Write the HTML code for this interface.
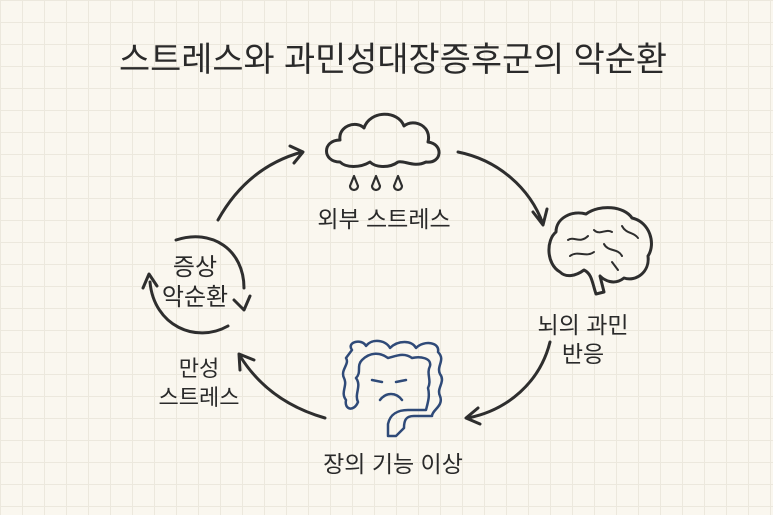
<!DOCTYPE html>
<html><head><meta charset="utf-8"><style>
html,body{margin:0;padding:0}
body{width:773px;height:515px;overflow:hidden;background-color:#faf7ef;
background-image:linear-gradient(#ece8dd 1px,transparent 1px),linear-gradient(90deg,#ece8dd 1px,transparent 1px);background-size:22px 22px;}
svg{position:absolute;left:0;top:0}
text{font-family:"Liberation Sans","Noto Sans CJK KR","NanumGothic",sans-serif;fill:#2a2a2a;text-anchor:middle}
</style></head><body>
<svg width="773" height="515" viewBox="0 0 773 515">
<g fill="none" stroke="#2e2e2e" stroke-width="3" stroke-linecap="round" stroke-linejoin="round">
<text x="393" y="71" font-size="34" stroke="none" textLength="548" lengthAdjust="spacingAndGlyphs">스트레스와  과민성대장증후군의  악순환</text>
<!-- cloud -->
<path d="M340 162 C322 162 322 140 340 140 C338 126 356 120 364 128 C370 110 398 110 404 126 C414 118 432 126 428 142 C444 144 442 164 426 162 C414 168 404 160 398 162 C390 168 376 168 370 162 C360 168 346 168 340 162 Z"/>
<path d="M354 176 L350 186 A4 4 0 0 0 358 186 Z M376 176 L372 186 A4 4 0 0 0 380 186 Z M398 176 L394 186 A4 4 0 0 0 402 186 Z" stroke-width="2.2"/>
<!-- brain -->
<path d="M560 272 C546 264 546 240 556 232 C556 218 572 210 586 214 C600 204 624 206 632 218 C650 222 656 244 648 256 C650 272 636 282 624 278 C614 286 604 280 600 276 L604 292 L596 294 C592 282 592 274 584 270 C576 276 566 278 560 272 Z"/>
<path d="M568 240 C574 236 580 244 588 236 M594 230 C600 236 606 228 612 232 M604 244 C608 252 618 248 622 256 M570 256 C578 250 586 258 594 252 M612 262 L618 270 M622 226 C626 234 634 232 638 238" stroke-width="2"/>
<!-- colon -->
<g stroke="#2f4a78" stroke-width="2.5">
<path d="M352 350 C346 342 362 338 366 346 C372 338 386 340 390 348 C398 340 412 340 416 348 C424 340 440 342 438 352 C446 360 436 366 440 374 C446 382 436 388 440 396 C444 406 432 410 432 416 L414 416 C406 416 404 420 404 428 L396 436 L388 436 L388 424 C390 414 398 410 408 410 L426 410 C428 402 430 396 428 388 C432 380 426 374 430 366 C432 358 420 356 412 358 C404 352 396 356 388 358 C380 352 370 352 362 360 C356 366 362 372 356 378 C362 386 354 394 358 402 C354 412 344 410 346 400 C340 392 348 386 344 378 C340 370 350 364 346 358 Z"/>
<path d="M372 380 L382 382 M396 382 L406 380 M380 400 C386 392 396 392 402 400"/>
</g>
<!-- main arrows -->
<path d="M218 220 C238 184 266 162 302 152 M290 146 L303 152 L294 163"/>
<path d="M458 152 C498 160 530 188 543 224 M533 212 L543 225 L547 209"/>
<path d="M550 342 C540 382 508 410 468 418 M478 408 L466 418 L480 424"/>
<path d="M325 418 C290 408 260 388 240 356 M240 370 L239 354 L254 360"/>
<!-- small cycle -->
<path d="M176 240 C212 228 244 250 244 288 M234 300 L244 310 L250 296"/>
<path d="M228 326 C196 344 154 326 150 282 M143 288 L149 274 L157 286"/>
</g>
<g stroke="none">
<text x="384" y="227" font-size="23">외부 스트레스</text>
<text x="583" y="333" font-size="23">뇌의 과민</text>
<text x="583" y="362" font-size="23">반응</text>
<text x="393" y="472" font-size="23">장의 기능 이상</text>
<text x="199" y="376" font-size="22">만성</text>
<text x="199" y="405" font-size="22">스트레스</text>
<text x="195" y="275" font-size="24">증상</text>
<text x="195" y="305" font-size="24">악순환</text>
</g>
</svg>
</body></html>
